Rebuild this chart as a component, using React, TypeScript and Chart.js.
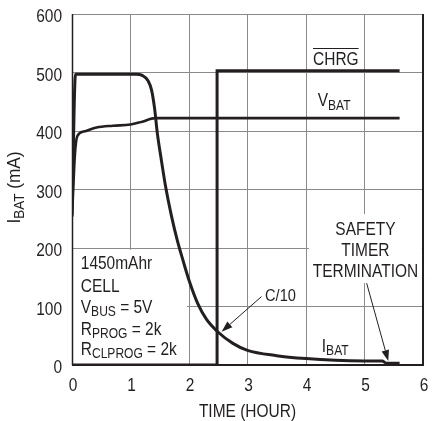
import React, { useEffect, useRef } from "react";
import { Chart, registerables } from "chart.js";

Chart.register(...registerables);

// ---------- data ----------
const TIME_IBAT = [0, 0.06, 1.1, 1.2, 1.3, 1.36, 1.41, 1.46, 1.52, 1.6, 1.7, 1.8, 1.9, 2.0, 2.15, 2.3, 2.5, 2.75, 3.0, 3.5, 4.0, 4.5, 5.0, 5.3, 5.38, 5.6];
const IBAT = [255, 497, 497, 495, 486, 470, 440, 395, 355, 305, 255, 213, 178, 145, 105, 78, 56, 37, 25, 16, 11, 8, 7, 7, 3, 3];

const TIME_VBAT = [0, 0.05, 0.09, 0.2, 0.42, 0.7, 1.0, 1.2, 1.42, 1.6, 5.6];
const VBAT = [253, 360, 391, 399, 406, 409, 411, 416, 422, 422, 422];

const TIME_CHRG = [0, 2.48, 2.48, 5.6];
const CHRG = [0, 0, 503, 503];

const X_TICKS = [0, 1, 2, 3, 4, 5, 6];
const Y_TICKS = [0, 100, 200, 300, 400, 500, 600];

const INFO_LINES: Array<Array<[string, boolean]>> = [
  [["1450mAhr", false]],
  [["CELL", false]],
  [["V", false], ["BUS", true], [" = 5V", false]],
  [["R", false], ["PROG", true], [" = 2k", false]],
  [["R", false], ["CLPROG", true], [" = 2k", false]],
];
const SAFETY_LINES = ["SAFETY", "TIMER", "TERMINATION"];

// ---------- style ----------
const FONT_FAMILY = "'Liberation Sans', Arial, sans-serif";
const INK = "#231f20";
const GRID = "#8a8a8a";
const SQUEEZE = 0.86;

function toPoints(xs: number[], ys: number[]) {
  return xs.map((x, i) => ({ x, y: ys[i] }));
}

function drawRich(
  ctx: CanvasRenderingContext2D,
  parts: Array<[string, boolean]>,
  x: number,
  y: number,
  size: number,
  align: "left" | "center" | "right" = "left",
  sx: number = SQUEEZE
) {
  const subSize = Math.round(size * 0.78);
  let total = 0;
  for (const [t, sub] of parts) {
    ctx.font = `${sub ? subSize : size}px ${FONT_FAMILY}`;
    total += ctx.measureText(t).width * sx;
  }
  let cx = align === "center" ? x - total / 2 : align === "right" ? x - total : x;
  ctx.textAlign = "left";
  ctx.textBaseline = "alphabetic";
  for (const [t, sub] of parts) {
    ctx.font = `${sub ? subSize : size}px ${FONT_FAMILY}`;
    ctx.save();
    ctx.translate(cx, sub ? y + 3.5 : y);
    ctx.scale(sx, 1);
    ctx.fillText(t, 0, 0);
    ctx.restore();
    cx += ctx.measureText(t).width * sx;
  }
  return total;
}

function arrow(ctx: CanvasRenderingContext2D, x1: number, y1: number, x2: number, y2: number) {
  const ang = Math.atan2(y2 - y1, x2 - x1);
  const hl = 11;
  const hw = 3.8;
  ctx.beginPath();
  ctx.moveTo(x1, y1);
  ctx.lineTo(x2 - hl * Math.cos(ang), y2 - hl * Math.sin(ang));
  ctx.lineWidth = 1;
  ctx.strokeStyle = INK;
  ctx.stroke();
  ctx.beginPath();
  ctx.moveTo(x2, y2);
  ctx.lineTo(x2 - hl * Math.cos(ang) + hw * Math.sin(ang), y2 - hl * Math.sin(ang) - hw * Math.cos(ang));
  ctx.lineTo(x2 - hl * Math.cos(ang) - hw * Math.sin(ang), y2 - hl * Math.sin(ang) + hw * Math.cos(ang));
  ctx.closePath();
  ctx.fillStyle = INK;
  ctx.fill();
}

const annotPlugin = {
  id: "annot",
  beforeDatasetsDraw(chart: any) {
    const { ctx } = chart;
    const xs = chart.scales.x;
    const ys = chart.scales.y;
    const X = (v: number) => xs.getPixelForValue(v);
    const Y = (v: number) => ys.getPixelForValue(v);
    ctx.save();
    ctx.fillStyle = "#ffffff";
    ctx.fillRect(X(0) + 1, Y(197), X(1.965) - X(0) - 1, Y(0) - Y(197));
    ctx.fillRect(X(4.05), Y(258), X(5.98) - X(4.05), Y(140) - Y(258));
    ctx.restore();
  },
  afterDatasetsDraw(chart: any) {
    const { ctx, chartArea } = chart;
    const xs = chart.scales.x;
    const ys = chart.scales.y;
    const X = (v: number) => xs.getPixelForValue(v);
    const Y = (v: number) => ys.getPixelForValue(v);
    ctx.save();

    // frame
    ctx.strokeStyle = INK;
    ctx.lineWidth = 1.5;
    ctx.beginPath();
    ctx.moveTo(chartArea.left + 0.5, chartArea.top);
    ctx.lineTo(chartArea.left + 0.5, chartArea.bottom);
    ctx.stroke();
    ctx.lineWidth = 2;
    ctx.beginPath();
    ctx.moveTo(chartArea.left, chartArea.bottom);
    ctx.lineTo(chartArea.right, chartArea.bottom);
    ctx.moveTo(chartArea.right, chartArea.top);
    ctx.lineTo(chartArea.right, chartArea.bottom + 1);
    ctx.stroke();

    ctx.fillStyle = INK;
    const size = 18;

    // tick labels
    xs.ticks.forEach((t: any) => {
      drawRich(ctx, [[String(t.value), false]], X(t.value) + 1, chartArea.bottom + 26, size, "center");
    });
    ys.ticks.forEach((t: any) => {
      drawRich(ctx, [[String(t.value), false]], chartArea.left - 10, Y(t.value) + 8, size, "right");
    });

    // info block
    const lineYs = [163.8, 125.5, 89.5, 51.4, 17.1];
    INFO_LINES.forEach((parts, i) => {
      drawRich(ctx, parts, X(0.15), Y(lineYs[i]), size);
    });

    // CHRG with overline
    const w = drawRich(ctx, [["CHRG", false]], X(4.12), Y(513.6), size);
    ctx.lineWidth = 1.2;
    ctx.beginPath();
    ctx.moveTo(X(4.12), Y(541));
    ctx.lineTo(X(4.12) + w, Y(541));
    ctx.stroke();

    drawRich(ctx, [["V", false], ["BAT", true]], X(4.2), Y(442), size);
    drawRich(ctx, [["I", false], ["BAT", true]], X(4.27), Y(22.8), size);
    drawRich(ctx, [["C/10", false]], X(3.3), Y(110), 17);

    const safetyYs = [222.5, 186.6, 150];
    SAFETY_LINES.forEach((t, i) => {
      drawRich(ctx, [[t, false]], X(5.016), Y(safetyYs[i]), size, "center");
    });

    arrow(ctx, X(3.24), Y(117), X(2.557), Y(57));
    arrow(ctx, X(5.037), Y(139.8), X(5.406), Y(6.8));

    // axis titles
    drawRich(ctx, [["TIME (HOUR)", false]], (chartArea.left + chartArea.right) / 2, 416.5, size, "center");
    ctx.save();
    ctx.translate(20, 187.5);
    ctx.rotate(-Math.PI / 2);
    drawRich(ctx, [["I", false], ["BAT", true], [" (mA)", false]], 0, 0, size, "center", 0.96);
    ctx.restore();

    ctx.restore();
  },
};

export default function App() {
  const ref = useRef<HTMLCanvasElement | null>(null);

  useEffect(() => {
    if (!ref.current) return;
    const lineBase = {
      borderColor: INK,
      pointRadius: 0,
      fill: false,
    };
    const chart = new Chart(ref.current, {
      type: "line",
      data: {
        datasets: [
          { ...lineBase, label: "CHRG", data: toPoints(TIME_CHRG, CHRG), borderWidth: 3, tension: 0 },
          { ...lineBase, label: "VBAT", data: toPoints(TIME_VBAT, VBAT), borderWidth: 2.6, cubicInterpolationMode: "monotone" },
          { ...lineBase, label: "IBAT", data: toPoints(TIME_IBAT, IBAT), borderWidth: 3, cubicInterpolationMode: "monotone" },
        ] as any,
      },
      options: {
        animation: false,
        responsive: false,
        maintainAspectRatio: false,
        layout: { padding: { left: 0, top: 14, right: 12, bottom: 0 } },
        plugins: { legend: { display: false }, tooltip: { enabled: false }, title: { display: false } },
        scales: {
          x: {
            type: "linear",
            min: 0,
            max: 6,
            afterFit: (s: any) => { s.height = 56; },
            afterBuildTicks: (s: any) => { s.ticks = X_TICKS.map((v) => ({ value: v })); },
            grid: { color: GRID, lineWidth: 1, drawTicks: false },
            border: { display: false },
            ticks: { display: false },
          },
          y: {
            type: "linear",
            min: 0,
            max: 600,
            afterFit: (s: any) => { s.width = 72; },
            afterBuildTicks: (s: any) => { s.ticks = Y_TICKS.map((v) => ({ value: v })); },
            grid: { color: GRID, lineWidth: 1, drawTicks: false },
            border: { display: false },
            ticks: { display: false },
          },
        },
      } as any,
      plugins: [annotPlugin],
    });
    return () => chart.destroy();
  }, []);

  return (
    <div style={{ position: "fixed", left: 0, top: 0, width: 435, height: 421, background: "#fff" }}>
      <canvas ref={ref} width={435} height={421} style={{ display: "block", width: 435, height: 421 }} />
    </div>
  );
}
